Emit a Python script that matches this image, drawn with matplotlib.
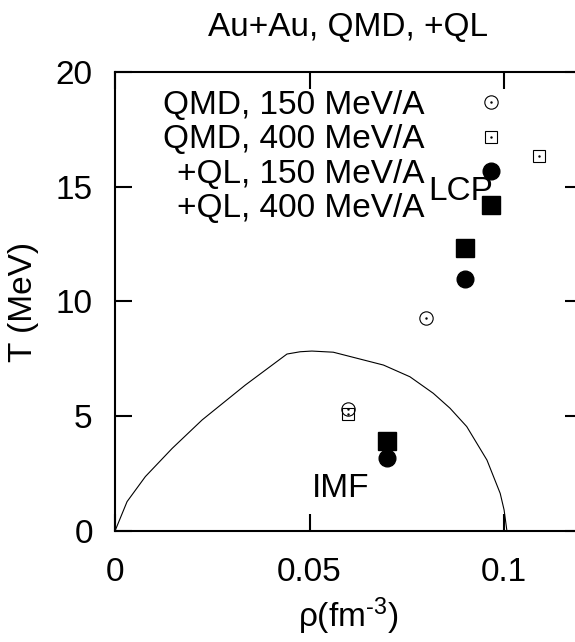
import matplotlib
matplotlib.use('Agg')
import matplotlib.pyplot as plt
from matplotlib.legend_handler import HandlerTuple

plt.rcParams['font.family'] = ['Liberation Sans', 'DejaVu Sans']
plt.rcParams['mathtext.fontset'] = 'custom'
plt.rcParams['mathtext.rm'] = 'Liberation Sans'
plt.rcParams['mathtext.default'] = 'regular'
plt.rcParams['font.size'] = 24

# data
qmd150_rho = [0.060, 0.080]
qmd150_T = [5.30, 9.29]
qmd400_rho = [0.060, 0.109]
qmd400_T = [5.10, 16.36]
ql150_rho = [0.070, 0.090]
ql150_T = [3.19, 11.00]
ql400_rho = [0.070, 0.090]
ql400_T = [3.91, 12.32]

# coexistence curve
curve_rho = [0, 0.0031, 0.0078, 0.0147, 0.0224, 0.0335, 0.0442, 0.0476, 0.0506,
             0.0561, 0.069, 0.0758, 0.0818, 0.0861, 0.0904, 0.0956, 0.099, 0.100, 0.1007]
curve_T = [0, 1.28, 2.37, 3.60, 4.84, 6.36, 7.71, 7.81, 7.84,
           7.79, 7.23, 6.72, 6.00, 5.35, 4.55, 3.09, 1.64, 0.92, 0.04]

labels = ['QMD, 150 MeV/A', 'QMD, 400 MeV/A', '+QL, 150 MeV/A', '+QL, 400 MeV/A']

fig = plt.figure(figsize=(5.75, 6.42), dpi=100)
ax = fig.add_axes([0.2, 0.1729, 0.812, 0.715])

ax.plot(curve_rho, curve_T, color='black', lw=0.8)

o1, = ax.plot(qmd150_rho, qmd150_T, 'o', ms=9.6, mfc='none', mec='black', mew=0.8, ls='none')
d1, = ax.plot(qmd150_rho, qmd150_T, '.', ms=1.5, color='black', ls='none')
o2, = ax.plot(qmd400_rho, qmd400_T, 's', ms=9.0, mfc='none', mec='black', mew=0.8, ls='none')
d2, = ax.plot(qmd400_rho, qmd400_T, '.', ms=1.5, color='black', ls='none')
f1, = ax.plot(ql150_rho, ql150_T, 'o', ms=12, color='black', ls='none')
f2, = ax.plot(ql400_rho, ql400_T, 's', ms=12.5, color='black', ls='none')

ax.text(0.0805, 14.42, 'LCP', ha='left', va='baseline')
ax.text(0.0506, 1.48, 'IMF', ha='left', va='baseline')

leg = ax.legend([(o1, d1), (o2, d2), f1, f2], labels,
                handler_map={tuple: HandlerTuple(ndivide=1)},
                loc='upper right', bbox_to_anchor=(0.876, 0.961),
                markerfirst=False, frameon=False, borderpad=0, borderaxespad=0,
                handlelength=2.0, handletextpad=1.0, labelspacing=0.10)

ax.set_xlim(0, 0.12)
ax.set_ylim(0, 20)
ax.set_xticks([0, 0.05, 0.1])
ax.set_xticklabels(['0', '0.05', '0.1'])
ax.set_yticks([0, 5, 10, 15, 20])
ax.tick_params(direction='in', length=12, width=1.5, top=True, right=True)
ax.tick_params(axis='x', pad=19)
ax.tick_params(axis='y', pad=16)
for s in ax.spines.values():
    s.set_linewidth(1.5)

ax.set_title('Au+Au, QMD, +QL', pad=26, fontsize=24)
ax.set_xlabel(r'ρ(fm$^{\text{-}3}$)', labelpad=5)
ax.set_ylabel('T (MeV)', labelpad=12)

plt.savefig('out.png', dpi=100)
